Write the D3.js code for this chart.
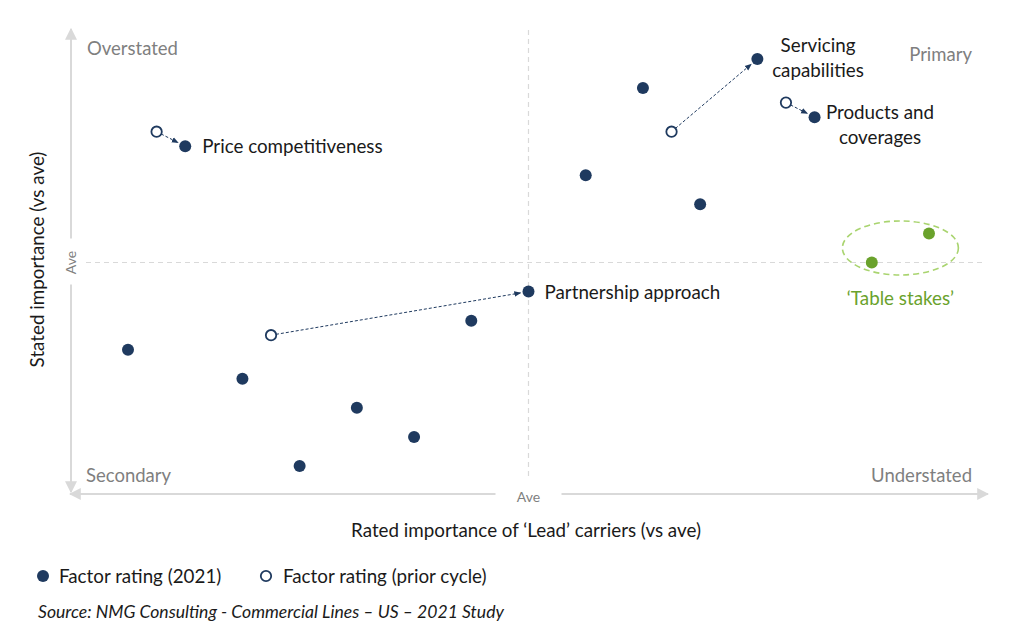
<!DOCTYPE html>
<html><head><meta charset="utf-8">
<script src="https://cdn.jsdelivr.net/npm/d3@7"></script>
<style>body{margin:0;background:#fff;} svg{display:block;font-family:Lato, "Open Sans", sans-serif;}</style>
</head><body><svg id="c" width="1024" height="635"></svg>
<script>
// Rank positions (1 = lowest, 15 = highest, 8 = average)
const ratedRank  = [1, 2, 3, 4, 5, 6, 7, 8, 9, 10, 11, 12, 13, 14, 15];
const statedRank = [5, 12, 4, 1, 3, 2, 6, 7, 11, 14, 10, 15, 13, 8, 9];
const pointGroup = ["f","f","f","f","f","f","f","f","f","f","f","f","f","t","t"];
const pointLabel = ["","Price competitiveness","","","","","","Partnership approach","","","","Servicing|capabilities","Products and|coverages","",""];
// Prior cycle positions, linked to the index of the 2021 point
const priorRated  = [1.5, 3.5, 10.5, 12.5];
const priorStated = [12.5, 5.5, 12.5, 13.5];
const priorTarget = [1, 7, 11, 12];
const quadrantLabels = ["Overstated", "Primary", "Secondary", "Understated"];
const avgLabel = "Ave";

const svg = d3.select("#c");
const x = d3.scaleLinear().domain([1, 15]).range([128, 929]);
const y = d3.scaleLinear().domain([1, 15]).range([466, 59]);
const navy = "#1f3a5f", green = "#6aa22c", grey = "#d9d9d9", tgrey = "#7f7f7f";
const FS = 18.8;

const defs = svg.append("defs");
defs.append("marker").attr("id","ah").attr("viewBox","0 0 10 10").attr("refX",9).attr("refY",5)
  .attr("markerWidth",7).attr("markerHeight",7).attr("orient","auto")
  .append("path").attr("d","M0,1L10,5L0,9Z").attr("fill", navy);
defs.append("marker").attr("id","ax").attr("viewBox","0 0 10 10").attr("refX",9).attr("refY",5)
  .attr("markerWidth",12).attr("markerHeight",12).attr("markerUnits","userSpaceOnUse").attr("orient","auto-start-reverse")
  .append("path").attr("d","M0,0L10,5L0,10Z").attr("fill", grey);

const xMid = x(8), yMid = y(8);
// axes
const ax = svg.append("g").attr("stroke", grey).attr("stroke-width", 2).attr("fill","none");
ax.append("line").attr("x1",71).attr("y1",29).attr("x2",71).attr("y2",yMid-24).attr("marker-start","url(#ax)");
ax.append("line").attr("x1",71).attr("y1",yMid+22).attr("x2",71).attr("y2",492).attr("marker-end","url(#ax)");
ax.append("line").attr("x1",70).attr("y1",494).attr("x2",xMid-33).attr("y2",494).attr("marker-start","url(#ax)");
ax.append("line").attr("x1",xMid+33).attr("y1",494).attr("x2",988).attr("y2",494).attr("marker-end","url(#ax)");
// average dashed lines
svg.append("line").attr("x1",xMid).attr("x2",xMid).attr("y1",30).attr("y2",480)
  .attr("stroke", grey).attr("stroke-width",1.2).attr("stroke-dasharray","5,4");
svg.append("line").attr("x1",86).attr("x2",986).attr("y1",yMid).attr("y2",yMid)
  .attr("stroke", grey).attr("stroke-width",1.2).attr("stroke-dasharray","5,4");

svg.append("text").attr("x",xMid).attr("y",502).attr("text-anchor","middle").attr("font-size",14)
  .attr("fill", tgrey).text(avgLabel);
svg.append("text").attr("transform",`translate(76,${yMid}) rotate(-90)`).attr("text-anchor","middle")
  .attr("font-size",14).attr("fill", tgrey).text(avgLabel);

// quadrant labels
const ql = svg.append("g").attr("font-size",18.5).attr("fill", tgrey);
ql.append("text").attr("x",87).attr("y",55).text(quadrantLabels[0]);
ql.append("text").attr("x",972).attr("y",61).attr("text-anchor","end").text(quadrantLabels[1]);
ql.append("text").attr("x",86).attr("y",482).text(quadrantLabels[2]);
ql.append("text").attr("x",972).attr("y",482).attr("text-anchor","end").text(quadrantLabels[3]);

// axis titles
svg.append("text").attr("transform",`translate(44,${yMid-3}) rotate(-90)`).attr("text-anchor","middle")
  .attr("font-size",FS).attr("fill","#1a1a1a").text("Stated importance (vs ave)");
svg.append("text").attr("x",526).attr("y",537).attr("text-anchor","middle")
  .attr("font-size",FS).attr("fill","#1a1a1a").text("Rated importance of \u2018Lead\u2019 carriers (vs ave)");

// table stakes ellipse
svg.append("ellipse").attr("cx",(x(14)+x(15))/2).attr("cy",(y(8)+y(9))/2).attr("rx",58).attr("ry",27)
  .attr("fill","none").attr("stroke","#a9d46f").attr("stroke-width",1.6).attr("stroke-dasharray","6,4");
svg.append("text").attr("x",(x(14)+x(15))/2).attr("y",305).attr("text-anchor","middle")
  .attr("font-size",FS).attr("fill", green).text("\u2018Table stakes\u2019");

// arrows prior -> 2021
function endPt(i){const t=priorTarget[i];const x0=x(priorRated[i]),y0=y(priorStated[i]),x1=x(ratedRank[t]),y1=y(statedRank[t]);
  const L=Math.hypot(x1-x0,y1-y0);return [x1-(x1-x0)/L*8, y1-(y1-y0)/L*8];}
svg.append("g").selectAll("line").data(priorRated).join("line")
  .attr("x1",(d)=>x(d)).attr("y1",(d,i)=>y(priorStated[i]))
  .attr("x2",(d,i)=>endPt(i)[0]).attr("y2",(d,i)=>endPt(i)[1])
  .attr("stroke", navy).attr("stroke-width",1).attr("stroke-dasharray","3,2").attr("marker-end","url(#ah)");

// prior points
svg.append("g").selectAll("circle").data(priorRated).join("circle")
  .attr("cx",(d)=>x(d)).attr("cy",(d,i)=>y(priorStated[i])).attr("r",5.2)
  .attr("fill","#fff").attr("stroke", navy).attr("stroke-width",1.8);

// 2021 points
svg.append("g").selectAll("circle").data(ratedRank).join("circle")
  .attr("cx",(d)=>x(d)).attr("cy",(d,i)=>y(statedRank[i])).attr("r",6)
  .attr("fill",(d,i)=>pointGroup[i]==="t"?green:navy);

// labels
const lab = svg.append("g").attr("font-size",FS).attr("fill","#1a1a1a");
lab.append("text").attr("x",x(2)+17).attr("y",y(12)+7).text(pointLabel[1]);
lab.append("text").attr("x",x(8)+16).attr("y",y(7)+7).text(pointLabel[7]);
pointLabel[11].split("|").forEach((s,k)=>lab.append("text").attr("x",818).attr("y",52+k*25).attr("text-anchor","middle").text(s));
pointLabel[12].split("|").forEach((s,k)=>lab.append("text").attr("x",880).attr("y",119+k*25).attr("text-anchor","middle").text(s));

// legend
const lg = svg.append("g").attr("font-size",FS).attr("fill","#1a1a1a");
lg.append("circle").attr("cx",43).attr("cy",576).attr("r",6).attr("fill",navy);
lg.append("text").attr("x",59).attr("y",583).text("Factor rating (2021)");
lg.append("circle").attr("cx",266).attr("cy",576).attr("r",5.2).attr("fill","#fff").attr("stroke",navy).attr("stroke-width",1.8);
lg.append("text").attr("x",283).attr("y",583).text("Factor rating (prior cycle)");
svg.append("text").attr("x",38).attr("y",618).attr("font-size",17.6).attr("font-style","italic").attr("fill","#1a1a1a")
  .text("Source: NMG Consulting - Commercial Lines \u2013 US \u2013 2021 Study");
</script></body></html>
